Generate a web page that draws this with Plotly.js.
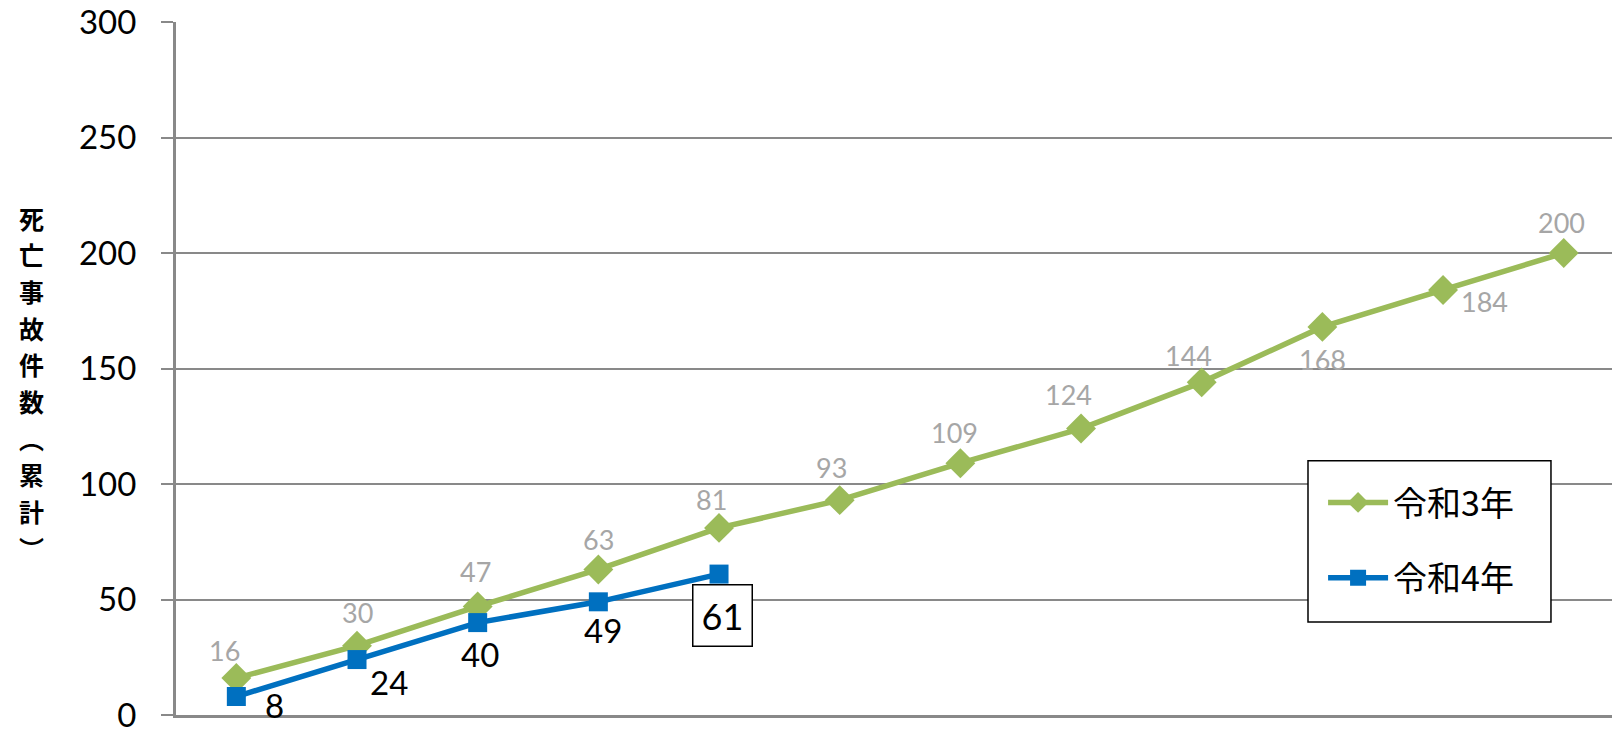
<!DOCTYPE html>
<html><head><meta charset="utf-8">
<script src="https://cdn.plot.ly/plotly-3.0.1.min.js"></script>
<style>html,body{margin:0;padding:0;background:#fff;overflow:hidden}#c{width:1612px;height:730px}</style>
</head><body><div id="c"></div>
<script>
const months = ['1月','2月','3月','4月','5月','6月','7月','8月','9月','10月','11月','12月'];
const r3Values = [16,30,47,63,81,93,109,124,144,168,184,200];
const r4Values = [8,24,40,49,61];
const seriesNames = ['令和3年','令和4年'];
const yTicks = [0,50,100,150,200,250,300];
const yTitleChars = ['死','亡','事','故','件','数','︵','累','計','︶'];

// label offsets (px) for each point
const r3Shift = [[-12,28],[0,33],[-2,35],[0,30],[-8,28],[-8,33],[-6,31],[-13,34],[-13,27],[0,-33],[41,-12],[-2,31]];
const r4Shift = [[38,-8],[32,-22],[2,-31],[5,-28],[3,-41]];

const green = '#9BBB59', blue = '#0070C0';
const fontFam = 'Lato, "Noto Sans", "Noto Sans CJK JP", sans-serif';
const cjk = '"Noto Sans CJK JP", sans-serif';

const traces = [
  {x: months, y: r3Values, name: seriesNames[0], type:'scatter', mode:'lines+markers', legendgroup:'a',
   line:{color:green,width:5.5}, marker:{symbol:'diamond',size:23,color:green}},
  {x: months.slice(0,r4Values.length), y: r4Values, name: seriesNames[1], type:'scatter', mode:'lines+markers', legendgroup:'b',
   line:{color:blue,width:5.5}, marker:{symbol:'square',size:19,color:blue}}
];

const annotations = [];
r3Values.forEach((v,i)=>annotations.push({x:months[i],y:v,text:String(v),showarrow:false,
  xshift:r3Shift[i][0],yshift:r3Shift[i][1],font:{family:fontFam,size:27,color:'#A6A6A6'}}));
r4Values.forEach((v,i)=>{
  const last = i===r4Values.length-1;
  annotations.push({x:months[i],y:v,text:String(v),showarrow:false,
  xshift:r4Shift[i][0],yshift:r4Shift[i][1],font:{family:fontFam,size:last?36:33,color:'#000'},
  bordercolor: last?'#000':'rgba(0,0,0,0)',borderwidth: last?1.5:0,borderpad:last?8:1,bgcolor:last?'#fff':'rgba(0,0,0,0)'});
});
yTitleChars.forEach((ch,i)=>annotations.push({xref:'paper',yref:'paper',x:-0.1003,y:1,xanchor:'center',yanchor:'middle',
  yshift:-(195.5+36.7*i),text:ch,showarrow:false,
  font:{family:cjk,size:25,color:'#000',weight:'bold'}}));

const layout = {
  width:1612,height:730,
  margin:{l:176,r:0,t:22,b:15},
  paper_bgcolor:'#fff',plot_bgcolor:'#fff',
  showlegend:true,
  legend:{x:0.7988,y:0.348,xanchor:'left',yanchor:'top',borderwidth:0,bgcolor:'rgba(0,0,0,0)',
    font:{family:cjk,size:34,color:'#000'},traceorder:'grouped',tracegroupgap:28,itemwidth:60},
  shapes:[{type:'rect',xref:'paper',yref:'paper',x0:0.7883,x1:0.9575,y0:0.1343,y1:0.367,
    line:{color:'#000',width:1.5},fillcolor:'#fff',layer:'above'}],
  xaxis:{type:'category',range:[-0.5,11.4],showticklabels:false,ticks:'',showgrid:false,
    showline:true,linecolor:'#898989',linewidth:2.5,zeroline:false,fixedrange:true},
  yaxis:{range:[0,300],tickvals:yTicks,ticks:'outside',ticklen:12,tickcolor:'#898989',tickwidth:2,
    ticklabelstandoff:18,ticklabeloverflow:'allow',
    showgrid:true,gridcolor:'#898989',gridwidth:2,showline:true,linecolor:'#898989',linewidth:3,
    zeroline:false,tickfont:{family:fontFam,size:33,color:'#000'}},
  annotations:annotations
};
Plotly.newPlot('c',traces,layout,{displayModeBar:false,staticPlot:true});
</script></body></html>
